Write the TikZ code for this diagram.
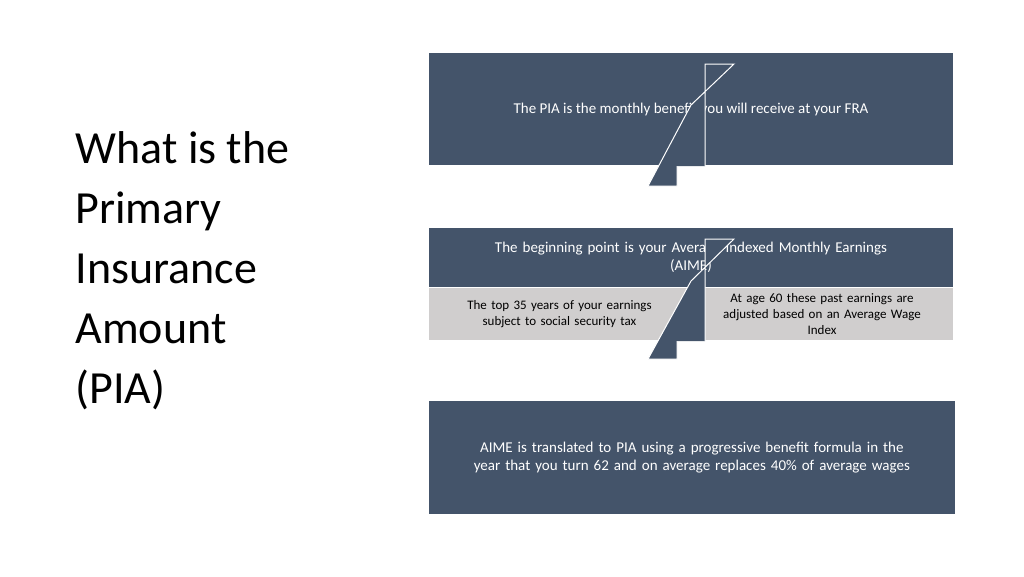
\documentclass[tikz,border=0pt]{standalone}
\usepackage{fontspec}
\setmainfont{Carlito}
\definecolor{slate}{HTML}{44546A}
\definecolor{cellgray}{HTML}{D0CECE}
\begin{document}
\begin{tikzpicture}[x=1pt,y=-1pt,
  box/.style={fill=slate,draw=white,line width=1pt,text=white,align=center,font=\fontsize{15}{18}\selectfont},
  cell/.style={fill=cellgray,draw=white,line width=1pt,text=black,align=center,font=\fontsize{13}{16}\selectfont},
  arr/.style={fill=slate,draw=white,line width=1pt}]
\useasboundingbox (0,0) rectangle (1024,576);
\node[anchor=north west,align=left,font=\fontsize{46}{60}\selectfont\addfontfeatures{}] (title) at (72,128) {What is the\\Primary\\Insurance\\Amount\\(PIA)};
\node[box,minimum width=525,minimum height=113,anchor=north west] (b1) at (428,52) {The PIA is the monthly benefit you will receive at your FRA};
\node[box,minimum width=525,minimum height=60,anchor=north west,text width=500] (b2) at (428,227) {The beginning point is your Average Indexed Monthly Earnings\\(AIME)};
\node[cell,minimum width=262,minimum height=53,anchor=north west,text width=240] (c1) at (428,287) {The top 35 years of your earnings\\subject to social security tax};
\node[cell,minimum width=263,minimum height=53,anchor=north west,text width=240] (c2) at (690,287) {At age 60 these past earnings are\\adjusted based on an Average Wage\\Index};
\node[box,minimum width=525,minimum height=114,anchor=north west,text width=520] (b3) at (428,400) {AIME is translated to PIA using a progressive benefit formula in the\\year that you turn 62 and on average replaces 40\% of average wages};
\coordinate (a1) at (b1.south);
\coordinate (a2) at (c1.south east);
\draw[arr] ([xshift=-14]a1) -- ++(0,20) -- ++(-29,0) -- ([yshift=61]a1) -- ++(43,-41) -- ++(-29,0) -- ([xshift=14]a1);
\draw[arr] ([xshift=-14]a2) -- ++(0,18) -- ++(-29,0) -- ([yshift=60]a2) -- ++(43,-42) -- ++(-29,0) -- ([xshift=14]a2);
\end{tikzpicture}
\end{document}
